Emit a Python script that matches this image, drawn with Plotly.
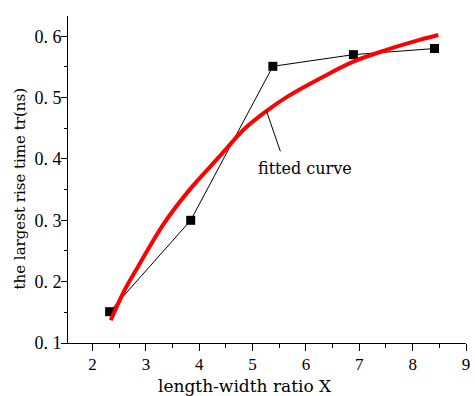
import plotly.graph_objects as go

# measured rise time vs. length-width ratio
ratio_x = [2.32, 3.84, 5.38, 6.89, 8.41]
rise_time = [0.151, 0.300, 0.551, 0.570, 0.580]

# points along the fitted curve
fit_x = [2.34, 2.60, 2.85, 3.34, 3.84, 4.39, 4.86, 5.29, 5.66, 6.28, 6.90, 7.52, 8.13, 8.48]
fit_y = [0.137, 0.186, 0.224, 0.295, 0.352, 0.405, 0.450, 0.480, 0.502, 0.532, 0.559, 0.578,
         0.594, 0.602]

y_tick_vals = [0.1, 0.2, 0.3, 0.4, 0.5, 0.6]
y_tick_text = ["0. 1", "0. 2", "0. 3", "0. 4", "0. 5", "0. 6"]
x_tick_vals = [2, 3, 4, 5, 6, 7, 8, 9]

TITLE_FONT = "DejaVu Serif"
TICK_FONT = "Liberation Serif"

W, H = 475, 396
ML, MR, MT, MB = 68, 5, 16, 53


def paper_x(px):
    return (px - ML) / (W - ML - MR)


def paper_y(py):
    return (H - py - MB) / (H - MT - MB)


fig = go.Figure()
fig.add_trace(go.Scatter(
    x=ratio_x, y=rise_time, mode="lines+markers",
    line=dict(color="black", width=1),
    marker=dict(symbol="square", size=9, color="black"),
    showlegend=False,
))
fig.add_trace(go.Scatter(
    x=fit_x, y=fit_y, mode="lines",
    line=dict(color="#ff0000", width=4, shape="spline", smoothing=1.0),
    showlegend=False,
))

# label with leader line pointing at the fitted curve
fig.add_annotation(
    x=5.26, y=0.478, xref="x", yref="y",
    ax=5.53, ay=0.41, axref="x", ayref="y",
    text="", showarrow=True, arrowhead=0, arrowwidth=1, arrowcolor="black",
)
fig.add_annotation(
    x=5.99, y=0.385, xref="x", yref="y",
    text="fitted curve", showarrow=False,
    font=dict(family=TITLE_FONT, size=16, color="black"),
)

# axis titles
fig.add_annotation(
    x=paper_x(247), y=paper_y(386), xref="paper", yref="paper",
    xanchor="center", yanchor="middle",
    text="length-width ratio X", showarrow=False,
    font=dict(family=TITLE_FONT, size=17, color="black"),
)
fig.add_annotation(
    x=paper_x(20), y=paper_y(189), xref="paper", yref="paper",
    xanchor="center", yanchor="middle",
    text="the largest rise time tr(ns)", showarrow=False, textangle=-90,
    font=dict(family=TITLE_FONT, size=15, color="black"),
)

fig.update_layout(
    width=W, height=H,
    margin=dict(l=ML, r=MR, t=MT, b=MB),
    paper_bgcolor="white", plot_bgcolor="white",
    font=dict(family=TICK_FONT, size=17, color="black"),
    xaxis=dict(
        range=[1.54, 9.0], tickvals=x_tick_vals,
        showgrid=False, zeroline=False,
        showline=True, linecolor="black", linewidth=1,
        ticks="outside", ticklen=7, tickcolor="black",
        ticklabeloverflow="allow", ticklabelstandoff=-1,
        minor=dict(ticks="outside", ticklen=4, tickcolor="black",
                   tickvals=[2.5, 3.5, 4.5, 5.5, 6.5, 7.5, 8.5]),
        tickfont=dict(family=TICK_FONT, size=17),
    ),
    yaxis=dict(
        range=[0.1, 0.633], tickvals=y_tick_vals, ticktext=y_tick_text,
        showgrid=False, zeroline=False,
        showline=True, linecolor="black", linewidth=1,
        ticks="outside", ticklen=6, tickcolor="black",
        ticklabelstandoff=-4,
        minor=dict(ticks="outside", ticklen=3, tickcolor="black",
                   tickvals=[0.15, 0.25, 0.35, 0.45, 0.55]),
        tickfont=dict(family=TICK_FONT, size=18),
    ),
)

fig.write_html("out.html")
